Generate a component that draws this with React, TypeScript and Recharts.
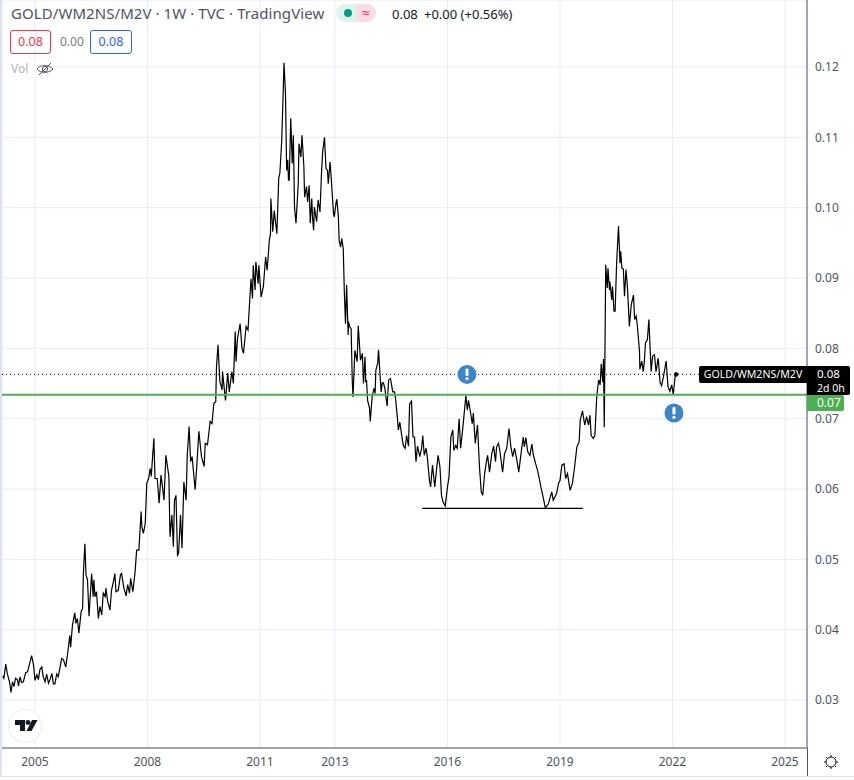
import React from "react";
import { LineChart, Line, XAxis, YAxis, CartesianGrid, ReferenceLine, ReferenceDot } from "recharts";

const years = [
2004.14,2004.17,2004.22,2004.26,2004.32,2004.36,2004.40,2004.44,2004.48,2004.53,2004.56,2004.60,2004.64,2004.69,2004.75,2004.80,2004.91,2004.96,2005.00,2005.05,2005.09,2005.13,2005.18,2005.22,2005.27,2005.31,2005.36,2005.40,2005.45,2005.49,2005.53,2005.58,2005.62,2005.71,2005.76,2005.82,2005.87,2005.93,2005.95,2006.00,2006.06,2006.09,2006.13,2006.17,2006.23,2006.27,2006.29,2006.33,2006.36,2006.40,2006.44,2006.51,2006.55,2006.57,2006.60,2006.64,2006.69,2006.73,2006.78,2006.82,2006.87,2006.89,2006.94,2007.00,2007.04,2007.09,2007.13,2007.16,2007.22,2007.28,2007.31,2007.37,2007.43,2007.47,2007.52,2007.55,2007.61,2007.67,2007.71,2007.77,
2007.83,2007.85,2007.89,2007.94,2007.98,2008.03,2008.07,2008.10,2008.17,2008.20,2008.26,2008.31,2008.36,2008.40,2008.44,2008.49,2008.57,2008.60,2008.65,2008.69,2008.72,2008.76,2008.80,2008.83,2008.88,2008.92,2008.97,2009.03,2009.06,2009.11,2009.15,2009.19,2009.27,2009.31,2009.37,2009.44,2009.51,2009.54,2009.60,2009.67,2009.72,2009.77,2009.82,
2009.84,2009.88,2009.93,2009.99,2010.00,2010.05,2010.08,2010.14,2010.18,2010.25,2010.29,2010.34,2010.36,2010.40,2010.47,2010.52,2010.56,2010.63,2010.68,2010.76,2010.80,2010.82,2010.87,2010.89,2010.95,2010.97,2011.03,2011.09,2011.15,2011.19,2011.25,
2011.28,2011.29,2011.34,2011.38,2011.45,2011.50,2011.53,2011.58,2011.62,2011.64,2011.68,2011.71,2011.74,2011.76,2011.78,2011.82,2011.86,2011.89,2011.92,2011.96,2012.02,2012.04,2012.09,2012.12,2012.17,2012.19,2012.24,2012.27,2012.31,2012.34,2012.38,2012.40,2012.43,2012.45,2012.51,2012.55,2012.60,2012.64,2012.67,2012.72,2012.76,2012.80,2012.82,2012.87,2012.92,2012.96,2012.98,
2013.03,2013.05,2013.09,2013.11,2013.15,2013.18,2013.22,2013.25,2013.28,2013.31,2013.35,2013.36,2013.39,2013.43,2013.46,2013.48,2013.53,2013.59,2013.62,2013.68,2013.73,2013.76,2013.80,2013.82,2013.84,2013.87,2013.92,2013.94,2013.99,2014.04,2014.07,2014.09,2014.14,2014.16,2014.20,2014.23,2014.26,2014.29,2014.33,2014.39,2014.43,2014.48,2014.54,2014.59,2014.62,2014.66,
2014.69,2014.73,2014.78,2014.82,2014.87,2014.91,2014.96,2014.99,2015.04,2015.08,2015.12,2015.16,2015.20,2015.26,2015.31,2015.34,2015.38,2015.43,2015.46,2015.52,2015.55,2015.60,2015.66,2015.71,2015.75,2015.80,2015.84,2015.88,2015.94,2016.00,2016.04,2016.09,2016.14,2016.17,2016.22,2016.26,2016.31,2016.35,2016.42,2016.49,2016.53,2016.56,2016.62,2016.66,2016.69,2016.74,2016.80,2016.85,2016.90,2016.94,2016.99,2017.03,2017.07,2017.12,2017.18,2017.23,2017.28,2017.31,2017.36,2017.40,2017.47,2017.52,2017.58,2017.64,2017.69,2017.74,2017.79,2017.85,2017.90,2017.96,2018.02,2018.05,2018.09,2018.14,2018.20,2018.25,2018.29,2018.35,2018.40,2018.44,2018.49,2018.56,2018.61,2018.69,2018.78,2018.82,2018.91,2018.96,2019.00,2019.05,2019.11,2019.15,2019.20,2019.27,2019.33,2019.38,2019.45,2019.51,2019.54,2019.60,2019.66,2019.71,2019.76,2019.80,2019.83,2019.89,2019.93,2019.98,2020.03,2020.07,2020.10,2020.14,2020.16,2020.18,
2020.22,2020.26,2020.28,2020.32,2020.33,2020.38,2020.40,2020.44,2020.47,2020.51,2020.56,2020.60,2020.62,2020.65,2020.69,2020.72,2020.76,2020.80,2020.85,2020.90,2020.96,2020.99,2021.03,2021.06,2021.12,2021.13,2021.18,2021.22,2021.25,2021.28,2021.33,2021.37,2021.43,2021.47,2021.52,2021.56,2021.62,2021.67,2021.71,2021.76,2021.83,2021.88,2021.93,2021.98,2022.02,2022.08,2022.10,
];

const values = [
.0334,.0331,.0351,.0338,.0326,.0311,.0326,.0319,.0331,.0329,.0320,.0333,.0325,.0326,.0339,.0340,.0363,.0350,.0328,.0336,.0329,.0343,.0347,.0333,.0326,.0337,.0324,.0329,.0338,.0323,.0323,.0337,.0333,.0359,.0357,.0347,.0366,.0392,.0375,.0407,.0424,.0409,.0416,.0395,.0426,.0430,.0480,.0522,.0478,.0471,.0419,.0480,.0447,.0471,.0447,.0454,.0416,.0433,.0421,.0452,.0447,.0459,.0440,.0428,.0456,.0468,.0480,.0454,.0456,.0478,.0480,.0459,.0448,.0464,.0452,.0473,.0454,.0483,.0513,.0513,
.0568,.0546,.0537,.0551,.0608,.0615,.0629,.0618,.0672,.0615,.0615,.0580,.0620,.0603,.0584,.0648,.0618,.0532,.0563,.0518,.0584,.0591,.0506,.0509,.0563,.0516,.0610,.0584,.0648,.0689,.0639,.0646,.0599,.0629,.0682,.0646,.0632,.0665,.0663,.0696,.0693,.0722,.0724,
.0774,.0805,.0753,.0741,.0767,.0741,.0726,.0765,.0738,.0767,.0750,.0824,.0781,.0814,.0835,.0800,.0793,.0831,.0826,.0899,.0871,.0918,.0883,.0923,.0892,.0918,.0873,.0888,.0930,.0911,.0954,
.0963,.1013,.0966,.0996,.0963,.1042,.1049,.1096,.1167,.1206,.1162,.1053,.1068,.1039,.1039,.1127,.1063,.1103,.1001,.0978,.1034,.1091,.1072,.1103,.1058,.1015,.1030,.1008,.1032,.0978,.1013,.0987,.0968,.1001,.0980,.1011,.0994,.1049,.1079,.1100,.1056,.1053,.1034,.1065,.1025,.0992,.0987,
.1008,.1012,.0987,.0954,.0944,.0956,.0942,.0878,.0835,.0890,.0819,.0838,.0831,.0828,.0755,.0731,.0797,.0781,.0832,.0783,.0793,.0750,.0788,.0752,.0755,.0726,.0715,.0696,.0731,.0743,.0736,.0769,.0779,.0798,.0764,.0738,.0751,.0751,.0743,.0718,.0755,.0757,.0738,.0738,.0726,.0703,
.0684,.0695,.0676,.0662,.0658,.0676,.0661,.0721,.0725,.0674,.0674,.0639,.0661,.0646,.0658,.0676,.0648,.0658,.0646,.0612,.0603,.0634,.0603,.0629,.0648,.0631,.0591,.0582,.0576,.0603,.0617,.0674,.0684,.0655,.0662,.0658,.0700,.0658,.0693,.0733,.0712,.0726,.0707,.0693,.0708,.0665,.0691,.0634,.0596,.0591,.0622,.0636,.0648,.0624,.0650,.0661,.0639,.0660,.0665,.0653,.0624,.0650,.0658,.0686,.0660,.0646,.0658,.0641,.0624,.0650,.0674,.0660,.0673,.0653,.0648,.0664,.0648,.0636,.0627,.0617,.0603,.0586,.0573,.0579,.0596,.0584,.0594,.0608,.0612,.0634,.0636,.0615,.0622,.0598,.0608,.0627,.0660,.0667,.0698,.0711,.0691,.0703,.0691,.0705,.0676,.0672,.0676,.0731,.0755,.0748,.0778,.0752,.0785,.0688,
.0919,.0886,.0914,.0883,.0895,.0869,.0888,.0853,.0853,.0921,.0974,.0921,.0938,.0914,.0913,.0874,.0912,.0886,.0831,.0862,.0876,.0841,.0846,.0834,.0796,.0770,.0782,.0767,.0782,.0808,.0812,.0841,.0767,.0789,.0791,.0767,.0786,.0751,.0747,.0760,.0782,.0746,.0739,.0748,.0734,.0765,.0765,
];

const xTicks = [2005, 2008, 2011, 2013, 2016, 2019, 2022, 2025];
const yTicks = [0.03, 0.04, 0.05, 0.06, 0.07, 0.08, 0.09, 0.1, 0.11, 0.12];
const supportLevel = 0.0734;
const lastLevel = 0.0763;
const floorLevel = 0.05726;
const floorStart = 2015.32;
const floorEnd = 2019.61;
const alerts = [
  { x: 2016.52, y: 0.0763 },
  { x: 2022.04, y: 0.0708 },
];

const rows = years.map((x, i) => ({ x, v: values[i] }));
const FONT = '"Noto Sans", "Open Sans", sans-serif';
const TEXT = "#50535e";

const box = (s: React.CSSProperties): React.CSSProperties => ({ position: "absolute", whiteSpace: "nowrap", fontFamily: FONT, ...s });

const Alert = (p: any) => (
  <g>
    <circle cx={p.cx} cy={p.cy} r={9.5} fill="#3d85c6" />
    <rect x={p.cx - 1.5} y={p.cy - 6} width={3} height={7.5} rx={1} fill="#fff" />
    <circle cx={p.cx} cy={p.cy + 4.2} r={1.6} fill="#fff" />
  </g>
);

export default function App() {
  return (
    <div style={{ position: "absolute", left: 0, top: 0, width: 854, height: 780, background: "#fff", overflow: "hidden" }}>
      <LineChart width={854} height={780} data={rows} margin={{ top: 0, right: 0, bottom: 0, left: 2 }}>
        <CartesianGrid stroke="#e6eef5" strokeWidth={1} />
        <XAxis
          dataKey="x"
          type="number"
          domain={[2004.12, 2025.587]}
          allowDataOverflow
          ticks={xTicks}
          height={32}
          interval={0}
          tickLine={false}
          axisLine={{ stroke: "#50535e" }}
          tick={{ fill: TEXT, fontSize: 12, fontFamily: FONT, dy: 1 }}
          tickFormatter={(v: number) => String(v)}
        />
        <YAxis
          type="number"
          orientation="right"
          domain={[0.02318, 0.12953]}
          allowDataOverflow
          ticks={yTicks}
          width={47}
          interval={0}
          tickLine={false}
          axisLine={{ stroke: "#50535e" }}
          tick={{ fill: TEXT, fontSize: 12, fontFamily: FONT }}
          tickFormatter={(v: number) => v.toFixed(2)}
        />
        <Line dataKey="v" type="linear" stroke="#000" strokeWidth={1.2} dot={false} isAnimationActive={false} />
        <ReferenceLine y={lastLevel} stroke="#000" strokeDasharray="1 3" strokeWidth={1} />
        <ReferenceLine y={supportLevel} stroke="#4caf50" strokeWidth={2} />
        <ReferenceLine segment={[{ x: floorStart, y: floorLevel }, { x: floorEnd, y: floorLevel }]} stroke="#000" strokeWidth={1.2} />
        {alerts.map((a, i) => (
          <ReferenceDot key={i} x={a.x} y={a.y} r={9.5} shape={Alert} />
        ))}
        <ReferenceDot x={2022.1} y={lastLevel} r={1.8} fill="#000" stroke="#000" />
      </LineChart>

      <div style={{ position: "absolute", left: 0, top: 0, width: 2, height: 776, background: "#e0e3eb" }} />
      <div style={{ position: "absolute", left: 0, top: 776, width: 854, height: 1, background: "#e0e3eb" }} />
      <div style={{ position: "absolute", left: 807, top: 748, width: 1, height: 28, background: "#50535e" }} />

      <div style={box({ left: 11, top: 3, fontSize: 15, lineHeight: "20px", color: TEXT, letterSpacing: 0.07 })}>GOLD/WM2NS/M2V · 1W · TVC · TradingView</div>
      <div style={{ position: "absolute", left: 336, top: 4, width: 40, height: 18, borderRadius: 9, overflow: "hidden", display: "flex" }}>
        <div style={{ width: 20, background: "#dff3ee", position: "relative" }}>
          <div style={{ position: "absolute", left: 8, top: 5, width: 8, height: 8, borderRadius: 4, background: "#089981" }} />
        </div>
        <div style={{ width: 20, background: "#fbdbe6", color: "#e91e63", fontSize: 14, lineHeight: "18px", textAlign: "center", fontFamily: FONT }}>≈</div>
      </div>
      <div style={box({ left: 392, top: 4, fontSize: 13, lineHeight: "20px", color: "#131722" })}>0.08</div>
      <div style={box({ left: 424, top: 4, fontSize: 13, lineHeight: "20px", color: "#131722" })}>+0.00 (+0.56%)</div>

      <div style={box({ left: 10, top: 30, width: 41, height: 24, boxSizing: "border-box", border: "1px solid #f23645", borderRadius: 3, color: "#f23645", fontSize: 12.5, lineHeight: "22px", textAlign: "center" })}>0.08</div>
      <div style={box({ left: 60, top: 31, fontSize: 12, lineHeight: "22px", color: "#787b86" })}>0.00</div>
      <div style={box({ left: 90, top: 30, width: 42, height: 24, boxSizing: "border-box", border: "1px solid #2962ff", borderRadius: 3, color: "#2962ff", fontSize: 12.5, lineHeight: "22px", textAlign: "center" })}>0.08</div>

      <div style={box({ left: 3, top: 60, width: 54, height: 18, background: "#fff" })} />
      <div style={box({ left: 11, top: 60, fontSize: 12, lineHeight: "18px", color: "#b2b5be" })}>Vol</div>
      <svg style={{ position: "absolute", left: 36, top: 60 }} width={18} height={18} viewBox="0 0 18 18" fill="none" stroke="#50535e" strokeWidth={1}>
        <path d="M1 9 C4 4.5 13 4.5 17 9 C13 13.5 4 13.5 1 9 Z" />
        <circle cx={9} cy={9} r={2.6} />
        <path d="M3 15 L15 3" />
      </svg>

      <div style={box({ left: 699, top: 366, width: 108, height: 17, background: "#000", borderRadius: "2px 0 0 2px", color: "#fff", fontSize: 10.6, lineHeight: "16px", textAlign: "center" })}>GOLD/WM2NS/M2V</div>
      <div style={{ position: "absolute", left: 807, top: 366, width: 43, height: 29, background: "#000", borderRadius: "0 2px 2px 0" }} />
      <div style={box({ left: 817, top: 366, fontSize: 11.5, lineHeight: "16px", color: "#fff" })}>0.08</div>
      <div style={box({ left: 817, top: 382, fontSize: 10.5, lineHeight: "13px", color: "#fff" })}>2d 0h</div>
      <div style={box({ left: 807, top: 395, width: 37, height: 16, background: "#4caf50", color: "#fff", fontSize: 12, lineHeight: "16px", paddingLeft: 10, boxSizing: "border-box", borderRadius: "0 2px 2px 0" })}>0.07</div>

      <div style={{ position: "absolute", left: 8, top: 709, width: 34, height: 34, borderRadius: 17, background: "#fff", border: "1px solid #e8eaf0", boxSizing: "border-box" }} />
      <svg style={{ position: "absolute", left: 14, top: 719 }} width={24} height={14} viewBox="0 0 24 14" fill="#131722">
        <path d="M1 1 H11 V12 H6 V6 H1 Z" />
        <circle cx={14} cy={3.5} r={2.4} />
        <path d="M18 1 H23.5 L17.5 12 H12.5 Z" />
      </svg>
      <svg style={{ position: "absolute", left: 823, top: 754 }} width={16} height={16} viewBox="0 0 16 16" fill="none" stroke="#131722" strokeWidth={1}>
        <circle cx={8} cy={8} r={5} />
        <path d="M8 1 V3 M8 13 V15 M1 8 H3 M13 8 H15 M3 3 L4.4 4.4 M11.6 11.6 L13 13 M13 3 L11.6 4.4 M4.4 11.6 L3 13" />
      </svg>
    </div>
  );
}
